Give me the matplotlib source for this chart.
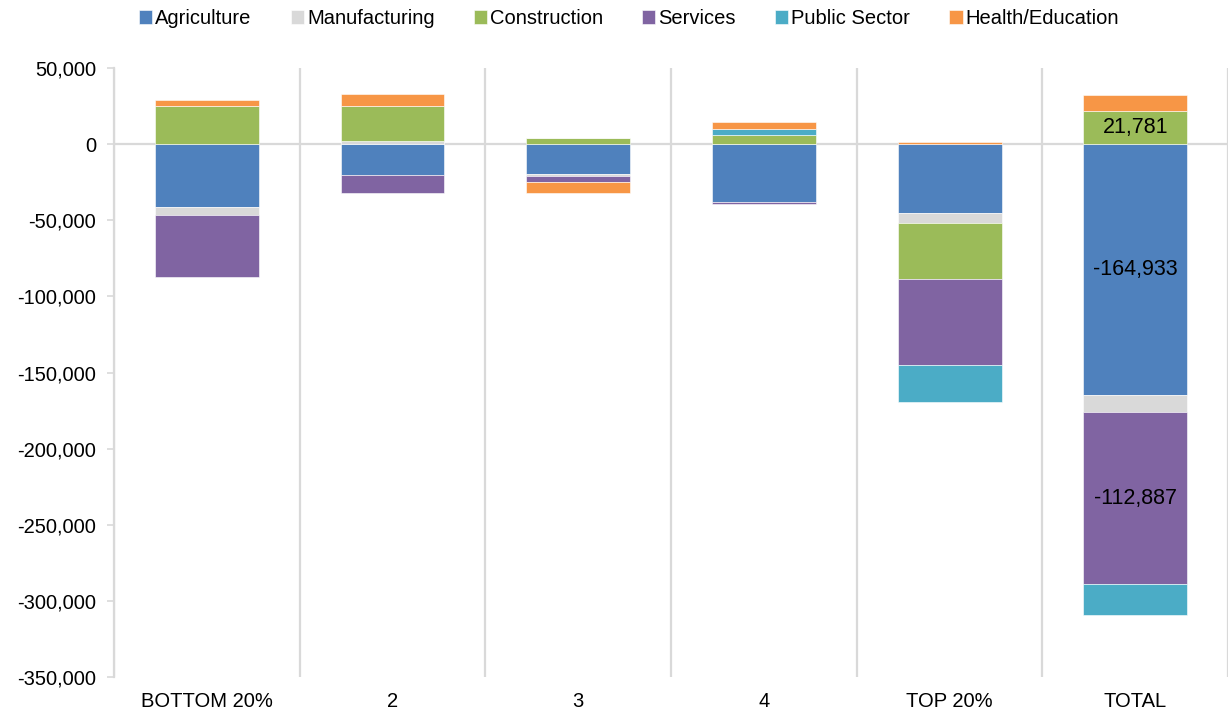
import numpy as np
import matplotlib
matplotlib.use("Agg")
import matplotlib.pyplot as plt
from matplotlib.ticker import FuncFormatter

plt.rcParams['font.family'] = ['Liberation Sans', 'DejaVu Sans']

# data
groups = ['BOTTOM 20%', '2', '3', '4', 'TOP 20%', 'TOTAL']
series = ['Agriculture', 'Manufacturing', 'Construction', 'Services',
          'Public Sector', 'Health/Education']
agriculture = [-41400, -20100, -19700, -38300, -45433, -164933]
manufacturing = [-5000, 1800, -1300, 0, -6600, -11100]
construction = [25200, 23300, 3800, 6200, -36719, 21781]
services = [-40600, -12000, -3600, -700, -55987, -112887]
public_sector = [0, 0, 0, 3700, -24300, -20600]
health_education = [3700, 7700, -7500, 4800, 1600, 10300]

colors = ['#4F81BD', '#D9D9D9', '#9BBB59', '#8064A2', '#4BACC6', '#F79646']
values = [agriculture, manufacturing, construction, services,
          public_sector, health_education]

# labelled segments on the TOTAL bar
labelled = {'Agriculture', 'Construction', 'Services'}

fig = plt.figure(figsize=(12.31, 7.15), dpi=100)
ax = fig.add_axes([0.0926, 0.0531, 0.905, 0.8518])

x = np.arange(len(groups))
pos_base = np.zeros(len(groups))
neg_base = np.zeros(len(groups))
for name, vals, col in zip(series, values, colors):
    vals = np.array(vals, dtype=float)
    bottoms = np.where(vals >= 0, pos_base, neg_base)
    ax.bar(x, vals, width=0.56, bottom=bottoms, color=col,
           edgecolor='white', linewidth=0.4, label=name, zorder=3)
    if name in labelled:
        i = len(groups) - 1
        ax.text(x[i], bottoms[i] + vals[i] / 2, '{:,.0f}'.format(vals[i]),
                ha='center', va='center', fontsize=15.5, color='black', zorder=4)
    pos_base += np.where(vals >= 0, vals, 0)
    neg_base += np.where(vals < 0, vals, 0)

# category separators and zero line
for b in np.arange(-0.5, len(groups), 1.0):
    ax.axvline(b, color='#D9D9D9', linewidth=1.6, zorder=1)
ax.axhline(0, color='#D9D9D9', linewidth=1.6, zorder=2)

ax.set_xlim(-0.5, len(groups) - 0.5)
ax.set_ylim(-350000, 50000)
ax.set_yticks(np.arange(-350000, 50001, 50000))
ax.yaxis.set_major_formatter(FuncFormatter(lambda v, p: '{:,.0f}'.format(v)))
ax.tick_params(axis='y', labelsize=14.5, length=5, width=1.2,
               color='#D9D9D9', pad=8)
ax.set_xticks(x)
ax.set_xticklabels(groups)
ax.tick_params(axis='x', labelsize=14.5, length=0, pad=11)

for s in ['top', 'right', 'bottom']:
    ax.spines[s].set_visible(False)
ax.spines['left'].set_color('#D9D9D9')
ax.spines['left'].set_linewidth(1.6)

fig.legend(*ax.get_legend_handles_labels(), loc='center',
           bbox_to_anchor=(0.511, 0.974), ncol=6, frameon=False,
           fontsize=14.5, handlelength=0.65, handleheight=0.65,
           handletextpad=0.15, columnspacing=1.95)

fig.savefig('out.png', dpi=100)
